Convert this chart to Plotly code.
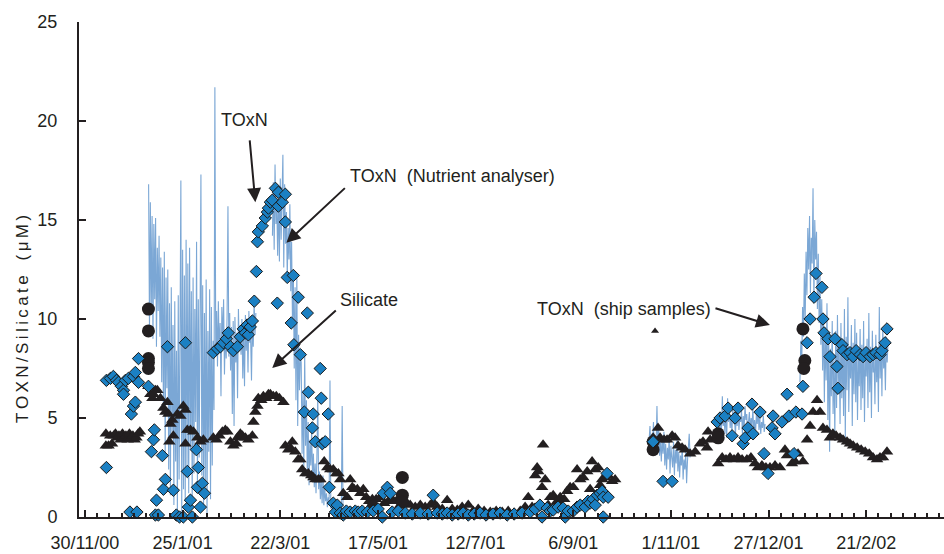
import pandas as pd
import plotly.graph_objects as go

START = pd.Timestamp("2000-11-30")

# ---------------- continuous sensor TOxN (12-hour samples) ----------------
lineA_start_day = 36.5
lineA_values = [
    16.8, 9.5, 15.9, 10.2, 15.2, 9.0, 14.8, 11.0, 15.1, 8.6, 13.6, 10.4, 14.2, 9.1,
    13.1, 6.8, 12.6, 5.2, 13.4, 3.1, 12.1, 6.5,
    12.5, 2.4, 10.8, 1.1, 11.6, 4.3, 9.7, 0.6, 10.9, 2.8, 8.4, 0.3, 11.2, 1.9, 9.1,
    17.0, 0.2, 13.5, 1.4, 12.2, 0.8, 14.0,
    2.5, 12.8, 1.2, 13.6, 3.4, 11.4, 0.7, 12.1, 2.2, 10.5, 4.8, 13.9, 1.6, 11.0, 3.0, 12.4,
    17.3, 2.1, 11.7, 0.4,
    10.3, 1.8, 12.0, 0.2, 9.4, 3.3, 11.5, 0.9, 10.6, 2.6, 8.9, 5.4,
    21.7, 8.2,
    10.4, 7.6, 10.9, 8.3, 9.8, 6.1, 10.6, 8.8, 11.0, 7.2, 9.5, 8.0, 10.2, 15.7,
    8.1, 10.3, 7.4, 9.6, 5.2, 9.9, 4.6, 10.1, 7.8, 9.3, 6.0, 10.5, 8.5, 9.7,
    8.2, 10.0, 7.0, 9.4, 6.6, 10.2, 8.4, 9.8, 7.3, 10.4, 8.8, 9.1, 6.9, 10.0, 8.6, 10.8, 9.2, 10.3,
    None, None, None, None, None, None, None, None, None,
    None, None, None, None, None, None, None, None, None,
    14.2, 16.9, 13.5, 17.8, 14.8, 15.9, 13.2, 16.4, 12.9, 17.1, 14.0, 16.2, 18.3, 12.6,
    16.8, 13.8, 15.4, 12.1, 14.6, 13.0, 15.8, 11.4,
    13.9, 9.8, 12.4, 7.5, 11.6, 5.9, 12.2, 4.6, 9.2, 6.4, 8.1,
    7.8, 3.2, 6.4, 2.5, 8.3, 3.6, 5.9, 2.1, 4.8, 1.6, 3.9,
    2.6, 4.4, 1.9, 3.2, 1.5, 2.7, 1.2, 3.0, 6.1, 1.4, 2.3, 0.9, 1.8, 0.7, 2.1, 0.6,
    1.5, 0.8, 1.2, 0.5, 1.0, 0.6, 6.9, 0.4, 0.9, 0.3, 0.7, 0.4, 0.3, 0.6, 0.2, 0.5,
    0.3, 0.2, 0.4, 0.3, 5.6, 0.3, 0.2, 0.3,
]

lineB_start_day = 323.5
lineB_values = [
    3.9, 4.6, 3.5, 4.2, 3.8, 4.8, 3.3, 4.1, 3.6, 5.6, 3.4, 4.5, 3.1, 4.0,
    2.8, 3.9, 3.2, 4.3, 2.6, 3.7, 2.4, 3.5, 2.9, 4.0, 2.2, 3.6, 3.0, 2.5, 3.8, 2.1, 3.4,
    2.7, 3.9, 2.3, 3.3, 2.0, 3.1, 2.6, 3.6, 1.9, 2.9, 2.4, 3.3, 1.7, 2.8, 3.5, 4.2, 3.0,
    None, None, None, None, None, None, None, None, None, None,
    None, None, None, None, None, None, None, None, None, None,
    None, None, None, None, None, None, None, None, None, None,
    4.3, 3.7, 4.9, 4.1, 5.2, 4.4, 6.1, 4.6, 5.0, 4.2, 5.4, 4.0, 6.0, 4.8, 5.3, 4.5,
    5.1, 4.3, 5.5, 4.7, 4.9, 4.1, 5.3, 4.6, 5.7, 4.4, 5.0, 4.8, 5.4, 4.2, 5.1, 4.5,
    5.6, 4.9, 5.2, 4.0, 4.8, 5.3, 4.4, 5.0, 4.6, 5.5, 4.3, 4.9, 4.1, 5.2, 4.7, 5.4,
    4.4, 5.0, 4.2, 4.8, 4.5, 5.1, 4.3, 4.7,
    None, None, None, None, None, None, None, None, None, None,
    None, None, None, None, None, None, None, None, None, None,
    None, None, None, None, None, None, None, None, None, None,
    None, None, None, None, None, None, None, None, None,
    6.8, 8.9, 7.5, 10.6, 9.1, 12.3, 10.0, 13.4, 11.2, 14.6, 12.5,
    15.2, 11.3, 14.1, 12.8, 16.6, 10.9, 15.0, 13.0, 14.4, 10.5, 13.3, 9.8,
    12.2, 8.7, 11.0, 7.4, 10.1, 5.8, 9.6, 6.9, 10.8, 4.9, 9.2, 3.3, 8.5, 6.1, 9.9, 5.2, 8.0, 4.1,
    9.4, 5.5, 10.2, 6.8, 8.6, 4.7, 9.8, 6.0, 8.9, 5.1, 10.5, 4.0, 9.1, 6.4, 11.1,
    5.3, 8.4, 7.0, 9.7, 4.6, 8.8, 6.2, 10.0, 5.8, 9.3, 4.9, 8.1, 6.6, 9.5, 5.4,
    8.7, 6.0, 9.9, 4.8, 8.2, 7.1, 9.0, 5.5, 10.3, 6.3, 8.6, 5.0, 9.4, 7.3, 8.0, 5.7,
    9.2, 6.8, 8.5, 5.3, 10.6, 7.0, 8.9, 6.1, 9.6, 7.5, 8.3, 6.4, 9.1, 7.8, 8.8,
]

# ---------------- TOxN (nutrient analyser) : diamonds ----------------
analyser_days = [
    12.3, 12.3, 14.6, 16.3, 18.1, 19.2, 20.9, 22.1, 22.1, 23.2, 24.9, 25.8, 26.6, 27.8, 27.8,
    28.9, 28.9, 29.8, 30.7, 30.7,
    36.4, 38.1, 39.3, 39.8, 41.0, 40.4, 42.1, 44.4, 45.0, 46.1, 47.3, 50.7, 52.4, 54.2, 56.4,
    57.6, 58.7, 59.3, 60.5, 61.6, 63.9, 64.5, 65.0, 66.2, 67.3, 68.5,
    73.6, 75.9, 77.7, 79.4, 81.1, 82.2, 83.4, 85.1, 87.4, 89.1, 90.8, 92.0, 93.1, 93.7, 94.8,
    96.0, 97.1, 98.3, 98.9, 99.4, 101.7, 103.4, 104.6, 105.2, 106.3, 107.4, 109.2, 110.9,
    110.9, 113.2, 114.9, 114.9, 116.0, 119.5, 122.3, 118.3, 119.8, 123.5, 110.3, 127.5,
    128.1, 125.8, 130.9, 130.4, 132.1, 134.9, 135.5, 136.1, 137.8, 139.5, 140.1, 142.4,
    143.6, 144.7, 146.4, 148.1, 149.9, 152.1, 155.0, 156.7, 159.0, 161.9, 165.3, 168.2,
    170.5, 171.1, 173.4, 175.1, 176.2, 179.7, 183.7, 187.7, 192.3, 196.8, 199.7, 202.0,
    204.9, 207.7, 210.6, 214.0, 216.9, 219.8, 223.2, 226.6, 230.0, 234.0, 238.1, 242.1,
    246.1, 250.7, 255.3, 258.2, 260.9, 262.1, 265.0, 266.8, 268.5, 271.3, 274.2, 275.4,
    277.1, 280.0, 282.2, 284.0, 286.8, 288.5, 289.7, 291.4, 292.6, 293.7, 295.4, 296.6,
    297.2, 297.2, 299.4, 300.0,
    325.8, 331.5, 336.7, 362.5, 364.2, 367.1, 368.8, 371.1, 372.8, 374.5, 377.4, 378.5,
    380.2, 382.5, 383.1, 387.1, 389.4, 391.7, 394.0, 394.6, 395.7, 399.7, 402.6, 403.7,
    406.6, 407.7, 411.2, 411.7, 414.1, 415.8, 418.1, 419.2, 422.6, 423.2, 423.8, 426.1,
    427.2, 430.1, 431.2, 431.8, 434.1, 434.7, 437.0, 438.7, 440.5, 442.2, 444.5, 446.2,
    447.9, 450.2, 451.9, 453.6, 455.9, 457.0, 458.8, 459.9,
]
analyser_toxn = [
    2.5, 6.9, 7.0, 7.1, 6.9, 6.8, 6.6, 6.4, 6.2, 6.9, 7.0, 0.25, 5.2, 7.1, 5.6,
    7.3, 5.8, 0.25, 8.0, 6.8,
    6.6, 3.3, 3.9, 4.4, 0.85, 0.1, 0.1, 3.1, 1.4, 1.9, 8.6, 1.35, 0.1, 0.0, 0.0,
    8.8, 2.3, 0.5, 0.85, 0.0, 3.4, 1.5, 2.5, 0.5, 1.7, 1.2,
    8.3, 8.5, 8.6, 8.8, 9.0, 9.3, 8.6, 8.4, 8.6, 9.1, 9.5, 9.3, 9.7, 9.2, 9.6,
    9.9, 10.9, 12.4, 13.9, 14.4, 14.7, 15.1, 15.4, 15.6, 15.9, 16.0, 16.6, 16.4,
    15.7, 15.9, 16.3, 14.9, 12.1, 12.2, 11.1, 9.8, 8.7, 8.2, 10.8, 10.3,
    6.3, 5.3, 5.2, 4.5, 3.8, 7.5, 6.0, 3.7, 3.8, 5.2, 1.5, 0.7,
    0.25, 0.6, 0.2, 0.1, 0.3, 0.25, 0.3, 0.25, 0.3, 0.25, 0.3, 0.4,
    0.0, 1.2, 1.5, 1.2, 0.25, 0.3, 0.2, 0.15, 0.2, 0.15, 1.1, 0.2,
    0.15, 0.2, 0.1, 0.15, 0.2, 0.1, 0.15, 0.2, 0.1, 0.15, 0.2, 0.1,
    0.15, 0.2, 0.25, 0.4, 0.6, 0.0, 0.45, 0.3, 0.35, 0.5, 0.45, 0.0,
    0.3, 0.3, 0.5, 0.6, 0.5, 0.8, 0.7, 0.9, 0.6, 1.1, 1.2, 1.3,
    1.0, 0.0, 2.2, 1.0,
    3.8, 1.8, 1.8, 4.8, 5.0, 5.1, 5.5, 4.1, 5.0, 5.5, 3.7, 4.0,
    4.5, 5.7, 4.2, 5.3, 3.2, 2.2, 4.5, 5.1, 4.2, 4.8, 6.2, 5.1,
    3.2, 5.3, 5.2, 6.6, 8.8, 10.0, 11.1, 12.3, 11.6, 10.0, 9.3, 9.0,
    8.1, 9.0, 7.6, 6.5, 8.7, 8.4, 8.2, 8.3, 8.1, 8.4, 8.2, 8.1,
    8.3, 8.1, 8.2, 8.3, 8.2, 8.4, 8.8, 9.5,
]

# ---------------- TOxN (ship samples) : circles ----------------
ship_days = [36.4, 36.4, 36.4, 36.4, 36.4, 165.3, 182.0, 182.0, 182.0,
             325.8, 325.8, 363.1, 363.1, 411.7, 412.8, 412.2]
ship_toxn = [10.5, 9.4, 8.0, 7.8, 7.5, 0.5, 2.0, 1.1, 0.75,
             3.4, 3.8, 4.2, 4.0, 9.5, 7.9, 7.5]

# ---------------- Silicate : triangles ----------------
silicate_days = [
    12.0, 12.0, 13.5, 14.5, 15.5, 16.5, 17.5, 18.5, 19.5, 20.5, 21.5, 22.5, 23.5, 24.5,
    25.5, 26.5, 27.5, 28.5, 29.5, 30.5, 31.5,
    36.4, 37.5, 38.7, 39.3, 40.4, 41.5, 43.3, 45.0, 46.1, 47.3, 47.9, 49.0, 50.1, 50.7,
    48.4, 53.0, 54.7, 56.4, 57.6, 57.6, 58.7, 60.5, 62.2, 64.5, 66.2, 67.9,
    73.6, 75.4, 77.1, 78.8, 80.5, 81.7, 83.4, 85.1, 86.8, 87.4, 89.1, 90.3, 92.0, 93.7,
    96.0, 96.6, 97.7, 98.9, 99.4, 101.1, 102.3, 104.0, 105.2, 106.3, 108.0, 109.7, 111.5,
    113.8, 114.9, 116.6, 117.8, 118.9, 120.6, 122.3, 123.5, 124.6, 126.4, 128.1, 129.8,
    131.0, 132.1, 133.8, 135.0, 137.2, 139.0, 140.7, 142.4, 144.1, 145.3, 146.4, 148.1,
    150.4, 152.1, 153.3, 154.4, 156.2, 157.9, 159.6, 161.3, 163.0, 164.8, 167.0, 169.3,
    171.6, 173.9, 176.2, 178.5, 180.8, 183.7, 186.5, 189.4, 192.3, 195.1, 198.0, 199.7,
    202.0, 204.9, 207.7, 210.6, 213.5, 216.3, 219.8, 222.6, 225.5, 228.9, 232.4, 235.8,
    239.3, 242.7, 246.1, 249.6, 252.4, 254.2, 256.4, 258.2, 259.3, 259.9, 262.1, 262.7,
    263.9, 265.6, 266.8, 268.5, 270.8, 272.5, 274.8, 276.5, 278.2, 280.0, 282.2, 284.0,
    285.7, 288.0, 289.7, 290.8, 292.6, 294.3, 295.4, 296.6, 298.3, 300.0, 302.3, 304.0,
    325.8, 328.6, 329.8, 332.1, 333.8, 336.7, 338.4, 340.1, 342.4, 344.1, 347.0, 349.9,
    352.7, 354.4, 356.7, 357.3, 358.5, 363.1, 365.4, 367.6, 369.9, 372.2, 374.5, 376.8,
    379.6, 381.9, 384.2, 385.9, 388.2, 390.5, 392.8, 395.7, 398.5, 401.4, 402.6, 405.4,
    407.2, 408.9, 411.7, 414.1, 415.8, 417.5, 419.8, 421.5, 423.2, 425.5, 427.2, 428.9,
    430.7, 433.0, 434.7, 437.0, 438.7, 440.5, 442.8, 445.1, 447.4, 449.7, 451.9, 454.2,
    455.9, 457.6, 459.9,
]
silicate_um = [
    4.2, 3.6, 3.6, 4.1, 3.7, 4.1, 4.2, 4.0, 4.1, 3.9, 4.2, 4.0, 4.1, 3.9,
    4.2, 4.0, 4.1, 3.9, 4.0, 4.2, 4.3,
    6.6, 6.2, 6.0, 6.2, 6.4, 6.4, 6.0, 5.5, 5.3, 5.8, 5.2, 4.7, 4.9, 4.1,
    3.8, 5.2, 5.1, 5.6, 5.4, 3.7, 4.4, 4.4, 4.3, 4.0, 3.8, 3.9,
    4.0, 3.9, 4.1, 4.3, 4.4, 4.3, 3.8, 3.6, 3.7, 4.0, 4.2, 4.1, 4.0, 3.9,
    4.1, 4.8, 5.3, 5.6, 6.0, 5.9, 6.1, 6.0, 6.2, 6.2, 6.1, 6.1, 6.0,
    5.8, 3.6, 3.4, 3.5, 3.8, 3.3, 2.9, 2.9, 2.4, 2.2, 2.2, 2.1,
    2.0, 1.9, 1.9, 1.9, 2.8, 2.5, 2.4, 2.4, 2.2, 2.2, 1.9, 1.2,
    1.0, 1.9, 1.5, 1.4, 1.4, 1.2, 1.4, 1.0, 0.8, 0.9, 0.9, 1.0,
    0.7, 0.8, 0.9, 0.8, 0.6, 0.8, 0.6, 0.5, 0.6, 0.5, 0.6, 0.75,
    0.5, 0.4, 0.85, 0.4, 0.35, 0.5, 0.6, 0.3, 0.4, 0.3, 0.25, 0.3,
    0.25, 0.3, 0.2, 0.3, 0.5, 1.0, 0.5, 2.1, 2.5, 2.3, 1.5, 3.65,
    1.9, 0.6, 1.0, 1.1, 0.8, 1.0, 0.9, 1.3, 1.5, 1.5, 2.4, 1.9,
    2.0, 2.3, 1.4, 2.8, 2.4, 2.5, 1.6, 1.9, 2.0, 2.1, 1.8, 1.9,
    4.0, 4.5, 4.0, 3.9, 3.9, 4.1, 4.0, 3.6, 3.5, 3.4, 3.2, 3.3,
    3.7, 3.8, 3.5, 4.3, 3.9, 2.7, 3.0, 2.9, 3.0, 2.9, 3.0, 2.9,
    2.9, 3.0, 2.7, 2.5, 2.6, 2.5, 2.5, 2.6, 2.5, 3.4, 3.1, 2.7,
    2.8, 3.2, 2.8, 3.9, 4.6, 5.3, 5.9, 5.3, 4.5, 4.4, 4.0, 4.2,
    4.1, 4.0, 3.9, 3.8, 3.7, 3.6, 3.5, 3.4, 3.3, 3.2, 3.0, 2.9,
    3.0, 3.0, 3.3,
]

# small key symbol beside the ship-sample label
key_day = [326.9]
key_val = [9.4]

x_tick_labels = ["30/11/00", "25/1/01", "22/3/01", "17/5/01", "12/7/01",
                 "6/9/01", "1/11/01", "27/12/01", "21/2/02"]
y_ticks = [0, 5, 10, 15, 20, 25]


def to_dates(days):
    return [START + pd.Timedelta(days=d) for d in days]


def regular_dates(start_day, n):
    return [START + pd.Timedelta(hours=int(round(start_day * 24)) + 12 * i) for i in range(n)]


INK = "#231f20"
FONT = "Liberation Sans, Arial, Helvetica, sans-serif"

fig = go.Figure()
fig.add_trace(go.Scatter(x=regular_dates(lineA_start_day, len(lineA_values)), y=lineA_values,
                         mode="lines", line=dict(color="#7ba7d5", width=1.1),
                         connectgaps=False, cliponaxis=False, hoverinfo="skip"))
fig.add_trace(go.Scatter(x=regular_dates(lineB_start_day, len(lineB_values)), y=lineB_values,
                         mode="lines", line=dict(color="#7ba7d5", width=1.1),
                         connectgaps=False, cliponaxis=False, hoverinfo="skip"))
fig.add_trace(go.Scatter(x=to_dates(silicate_days), y=silicate_um, mode="markers",
                         marker=dict(symbol="triangle-up", size=11, color=INK),
                         cliponaxis=False))
fig.add_trace(go.Scatter(x=to_dates(ship_days), y=ship_toxn, mode="markers",
                         marker=dict(symbol="circle", size=13, color=INK),
                         cliponaxis=False))
fig.add_trace(go.Scatter(x=to_dates(analyser_days), y=analyser_toxn, mode="markers",
                         marker=dict(symbol="diamond", size=9.5, color="#1b80c3",
                                     line=dict(color="#1a1a1a", width=1)),
                         cliponaxis=False))
fig.add_trace(go.Scatter(x=to_dates(key_day), y=key_val, mode="markers",
                         marker=dict(symbol="triangle-up", size=7, color=INK),
                         cliponaxis=False))


def d(day):
    return START + pd.Timedelta(days=day)


ann = []
texts = [
    ("TOxN", 91.5, 20.07),
    ("TOxN  (Nutrient analyser)", 210.6, 17.24),
    ("Silicate", 162.8, 10.97),
    ("TOxN  (ship samples)", 308.9, 10.49),
]
for t, dx, vy in texts:
    ann.append(dict(x=d(dx), y=vy, xref="x", yref="y", text=t, showarrow=False,
                    font=dict(family=FONT, size=18, color=INK),
                    xanchor="center", yanchor="middle"))
arrows = [
    (94.4, 19.1, 97.7, 15.9),
    (149.9, 16.68, 115.5, 13.85),
    (144.7, 10.5, 107.4, 7.53),
    (360.7, 10.57, 392.8, 9.7),
]
for tx, ty, hx, hy in arrows:
    ann.append(dict(x=d(hx), y=hy, ax=d(tx), ay=ty, xref="x", yref="y", axref="x", ayref="y",
                    text="", showarrow=True, arrowhead=2, arrowsize=1.4, arrowwidth=2,
                    arrowcolor=INK, standoff=0, startstandoff=0))

title_txt = "\u2009".join(list("TOXN/Silicate")) + "\u2009\u2009 \u2009" + "\u2009".join(list("(μM)"))
ann.append(dict(x=-0.066, y=10.0, xref="paper", yref="y", text=title_txt, textangle=-90,
                showarrow=False, font=dict(family=FONT, size=17, color=INK),
                xanchor="center", yanchor="middle"))

tick_vals = [START + pd.Timedelta(days=56 * i) for i in range(len(x_tick_labels))]

fig.update_layout(
    width=944, height=554,
    margin=dict(l=79, r=0, t=22, b=37),
    paper_bgcolor="white", plot_bgcolor="white",
    showlegend=False,
    annotations=ann,
    font=dict(family=FONT, size=18, color=INK),
    xaxis=dict(
        type="date", automargin=False,
        range=[START - pd.Timedelta(hours=82), START + pd.Timedelta(days=492.6)],
        tickvals=tick_vals, ticktext=x_tick_labels,
        ticks="inside", ticklen=7, tickwidth=1.5, tickcolor=INK,
        minor=dict(ticks="inside", ticklen=4, tickwidth=1.5, tickcolor=INK,
                   dtick=7 * 86400000, tick0=START),
        showline=True, linecolor=INK, linewidth=2,
        showgrid=False, zeroline=False,
        tickfont=dict(family=FONT, size=18, color=INK),
        ticklabelstandoff=8,
    ),
    yaxis=dict(
        range=[0, 25], tickvals=y_ticks, automargin=False,
        ticks="inside", ticklen=7, tickwidth=1.5, tickcolor=INK,
        showline=True, linecolor=INK, linewidth=2,
        showgrid=False, zeroline=False,
        tickfont=dict(family=FONT, size=18, color=INK),
        ticklabelstandoff=16,
    ),
)

fig.write_html("out.html")
